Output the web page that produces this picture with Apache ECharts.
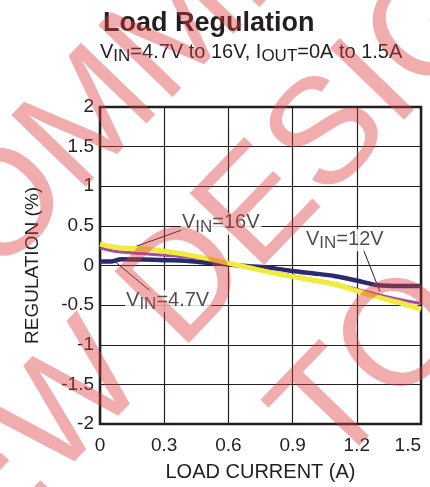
<!DOCTYPE html>
<html>
<head>
<meta charset="utf-8">
<script src="https://cdn.jsdelivr.net/npm/echarts@6/dist/echarts.min.js"></script>
<style>
html, body { margin: 0; padding: 0; background: #fff; }
#main { width: 430px; height: 487px; }
</style>
</head>
<body>
<div id="main"></div>
<script>
// load current (A)
var loadCurrent = [0, 0.05, 0.1, 0.2, 0.3, 0.4, 0.5, 0.6, 0.7, 0.8, 0.9, 1.0, 1.1, 1.2, 1.3, 1.4, 1.5];
// regulation (%) for each input voltage
var reg47 = [0.05, 0.05, 0.08, 0.075, 0.067, 0.06, 0.035, 0.013, -0.01, -0.03, -0.07, -0.10, -0.135, -0.19, -0.25, -0.26, -0.26];
var reg12 = [0.22, 0.19, 0.17, 0.15, 0.13, 0.11, 0.08, 0.03, -0.02, -0.08, -0.13, -0.18, -0.23, -0.30, -0.37, -0.43, -0.48];
var reg16 = [0.27, 0.24, 0.22, 0.21, 0.18, 0.14, 0.09, 0.03, -0.03, -0.09, -0.14, -0.19, -0.24, -0.32, -0.40, -0.47, -0.55];

// curve labels and their leader lines
var labelVin = ['16V', '12V', '4.7V'];
var labelX = [0.378, 0.958, 0.117];
var labelY = [0.563, 0.356, -0.413];
var leader16 = [[0.164, 0.237], [0.397, 0.462]];
var leader12 = [[1.229, 0.212], [1.308, -0.328]];
var leader47 = [[0.070, 0.049], [0.243, -0.34]];

// watermark bands
var wmText = ['RECOMMENDED', 'NEW DESIGNS', 'TO'];

var ink = '#231f20';
var font = '"Liberation Sans", Arial, sans-serif';

function pairs(ys) {
    return loadCurrent.map(function (x, i) { return [x, ys[i]]; });
}

var chart = echarts.init(document.getElementById('main'));

var subRich = {
    v: { fontSize: 20, fontWeight: 'normal', lineHeight: 22, verticalAlign: 'top', color: ink, fontFamily: font },
    s: { fontSize: 17, fontWeight: 'normal', lineHeight: 22, verticalAlign: 'top', padding: [6, 0, 0, 0], color: ink, fontFamily: font }
};

var leaderSeries = [leader16, leader12, leader47].map(function (d) {
    return {
        type: 'line',
        data: d,
        symbol: 'none',
        silent: true,
        lineStyle: { color: ink, width: 1 },
        z: 1
    };
});

// watermark placement
var wmAngle = 46 * Math.PI / 180;
var wmPos = [[166, 44], [249, 221], [374, 371]];
var watermark = wmText.map(function (t, i) {
    return {
        type: 'text',
        x: wmPos[i][0],
        y: wmPos[i][1],
        rotation: wmAngle,
        silent: true,
        z: 100,
        style: {
            text: t,
            font: '150px "Liberation Sans", Arial, sans-serif',
            fill: 'rgba(222,60,60,0.42)',
            textAlign: 'center',
            textVerticalAlign: 'middle'
        }
    };
});

var option = {
    backgroundColor: '#fff',
    animation: false,
    title: [{
        text: 'Load Regulation',
        left: 98,
        top: 5,
        textStyle: { fontSize: 27, fontWeight: 'bold', color: ink, fontFamily: font }
    }, {
        text: '{v|V}{s|IN}{v|=4.7V to 16V, I}{s|OUT}{v|=0A to 1.5A}',
        left: 100,
        top: 42,
        padding: 0,
        textStyle: { fontWeight: 'normal', rich: subRich }
    }],
    grid: {
        left: 100,
        right: 9,
        top: 107,
        bottom: 61,
        show: true,
        borderColor: ink,
        borderWidth: 2.5
    },
    xAxis: {
        type: 'value',
        min: 0,
        max: 1.5,
        interval: 0.3,
        name: 'LOAD CURRENT (A)',
        nameLocation: 'middle',
        nameGap: 38,
        nameTextStyle: { fontSize: 20, color: ink, fontFamily: font },
        axisLine: { show: false },
        axisTick: { show: false },
        axisLabel: { fontSize: 19, color: ink, margin: 12, fontFamily: font, alignMaxLabel: 'right' },
        splitLine: { show: true, lineStyle: { color: ink, width: 1.2 } }
    },
    yAxis: {
        type: 'value',
        min: -2,
        max: 2,
        interval: 0.5,
        name: 'REGULATION (%)',
        nameLocation: 'middle',
        nameGap: 58,
        nameTextStyle: { fontSize: 19, color: ink, fontFamily: font },
        axisLine: { show: false },
        axisTick: { show: false },
        axisLabel: { fontSize: 19, color: ink, margin: 6, fontFamily: font },
        splitLine: { show: true, lineStyle: { color: ink, width: 1.2 } }
    },
    series: leaderSeries.concat([{
        name: 'VIN=4.7V',
        type: 'line',
        data: pairs(reg47),
        symbol: 'none',
        smooth: 0.3,
        lineStyle: { color: '#2a2b6b', width: 4.5 },
        z: 3
    }, {
        name: 'VIN=12V',
        type: 'line',
        data: pairs(reg12),
        symbol: 'none',
        smooth: 0.3,
        lineStyle: { color: '#a64ca6', width: 3 },
        z: 4
    }, {
        name: 'VIN=16V',
        type: 'line',
        data: pairs(reg16),
        symbol: 'none',
        smooth: 0.3,
        lineStyle: { color: '#f0ec3c', width: 5 },
        z: 5
    }, {
        type: 'scatter',
        symbolSize: 0,
        silent: true,
        z: 6,
        data: labelVin.map(function (v, i) { return { value: [labelX[i], labelY[i]], vin: v }; }),
        label: {
            show: true,
            position: 'right',
            distance: 0,
            offset: [0, 3],
            backgroundColor: '#fff',
            padding: [0, 2, 0, 1],
            rich: subRich,
            formatter: function (p) { return '{v|V}{s|IN}{v|=' + p.data.vin + '}'; }
        }
    }]),
    graphic: watermark
};

chart.setOption(option);
</script>
</body>
</html>
